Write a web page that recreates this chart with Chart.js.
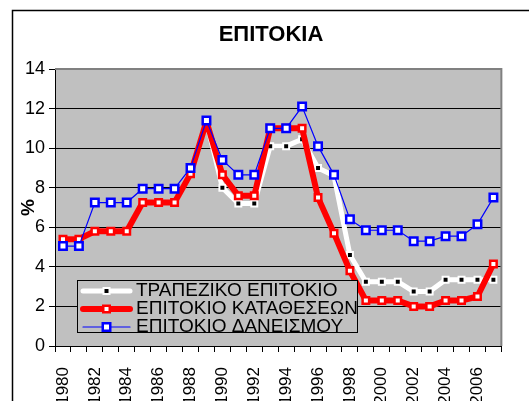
<!DOCTYPE html>
<html>
<head>
<meta charset="utf-8">
<script src="https://cdn.jsdelivr.net/npm/chart.js@4"></script>
<style>
	body { margin: 0; background: #fff; }
	#wrap { width: 529px; height: 401px; }
</style>
</head>
<body>
<div id="wrap"><canvas id="ratesChart" width="529" height="401"></canvas></div>
<script>
// Χρονιές
const years = ["1980", "1981", "1982", "1983", "1984", "1985", "1986", "1987", "1988", "1989",
	"1990", "1991", "1992", "1993", "1994", "1995", "1996", "1997", "1998", "1999",
	"2000", "2001", "2002", "2003", "2004", "2005", "2006", "2007"];

// Τραπεζικό επιτόκιο (κρυμμένο κάτω από το κόκκινο ως το 1989)
const bankRate = [5.4, 5.4, 5.8, 5.8, 5.8, 7.25, 7.25, 7.25, 8.7, 11.35,
	8.0, 7.2, 7.2, 10.1, 10.1, 10.45, 9.0, 8.6, 4.6, 3.25,
	3.25, 3.25, 2.75, 2.75, 3.35, 3.35, 3.35, 3.35];
// Επιτόκιο καταθέσεων
const depositRate = [5.4, 5.4, 5.8, 5.8, 5.8, 7.25, 7.25, 7.25, 8.7, 11.35,
	8.65, 7.6, 7.6, 11.0, 11.0, 11.0, 7.5, 5.7, 3.8, 2.3,
	2.3, 2.3, 2.0, 2.0, 2.3, 2.3, 2.5, 4.15];
// Επιτόκιο δανεισμού
const loanRate = [5.05, 5.05, 7.25, 7.25, 7.25, 7.95, 7.95, 7.95, 9.0, 11.4,
	9.4, 8.65, 8.65, 11.0, 11.0, 12.1, 10.1, 8.65, 6.4, 5.85,
	5.85, 5.85, 5.3, 5.3, 5.55, 5.55, 6.15, 7.5];

const seriesNames = ["ΤΡΑΠΕΖΙΚΟ ΕΠΙΤΟΚΙΟ", "ΕΠΙΤΟΚΙΟ ΚΑΤΑΘΕΣΕΩΝ", "ΕΠΙΤΟΚΙΟ ΔΑΝΕΙΣΜΟΥ"];
const chartTitle = "ΕΠΙΤΟΚΙΑ";

Chart.defaults.font.family = "'Liberation Sans', Arial, sans-serif";
Chart.defaults.color = "#000";

function drawSquare(ctx, x, y, side, fill, stroke, lw) {
	ctx.fillStyle = fill;
	ctx.fillRect(x - side / 2, y - side / 2, side, side);
	ctx.strokeStyle = stroke;
	ctx.lineWidth = lw;
	ctx.strokeRect(x - side / 2, y - side / 2, side, side);
}

// fond gris, cadre, titre et légende façon Excel
const excelFrame = {
	id: "excelFrame",
	beforeDraw(chart) {
		const ctx = chart.ctx;
		const a = chart.chartArea;
		ctx.save();
		ctx.fillStyle = "#fff";
		ctx.fillRect(0, 0, chart.width, chart.height);
		ctx.strokeStyle = "#000";
		ctx.lineWidth = 1.5;
		ctx.strokeRect(12.5, 10.5, chart.width + 10, chart.height + 10);
		ctx.fillStyle = "#c0c0c0";
		ctx.fillRect(a.left, a.top, a.right - a.left, a.bottom - a.top);
		ctx.fillStyle = "#000";
		ctx.font = "bold 22px 'Liberation Sans', Arial, sans-serif";
		ctx.textAlign = "center";
		ctx.textBaseline = "middle";
		ctx.fillText(chartTitle, 271, 35);
		ctx.restore();
	},
	beforeDatasetsDraw(chart) {
		const ctx = chart.ctx;
		const a = chart.chartArea;
		ctx.save();
		ctx.strokeStyle = "#808080";
		ctx.lineWidth = 2;
		ctx.beginPath();
		ctx.moveTo(a.left, a.top);
		ctx.lineTo(a.right, a.top);
		ctx.lineTo(a.right, a.bottom);
		ctx.stroke();
		ctx.restore();
	},
	afterDraw(chart) {
		const ctx = chart.ctx;
		const bx = 77.5, by = 280.5, bw = 280, bh = 52;
		ctx.save();
		ctx.fillStyle = "#c0c0c0";
		ctx.fillRect(bx, by, bw, bh);
		ctx.beginPath();
		ctx.rect(bx, by, bw, bh);
		ctx.clip();
		const rows = [291, 309, 327];
		const styles = [
			{ line: "#fff", lw: 5, fill: "#000", stroke: "#fff", side: 6, mlw: 2 },
			{ line: "#ff0000", lw: 6, fill: "#fff", stroke: "#ff0000", side: 6.5, mlw: 2.5 },
			{ line: "#0000ff", lw: 1.2, fill: "#fff", stroke: "#0000ff", side: 7.5, mlw: 2.5 },
		];
		rows.forEach((y, i) => {
			const s = styles[i];
			ctx.strokeStyle = s.line;
			ctx.lineWidth = s.lw;
			ctx.lineCap = "round";
			ctx.beginPath();
			ctx.moveTo(83, y);
			ctx.lineTo(130, y);
			ctx.stroke();
			drawSquare(ctx, 106.5, y, s.side, s.fill, s.stroke, s.mlw);
			ctx.fillStyle = "#000";
			ctx.font = "19px 'Liberation Sans', Arial, sans-serif";
			ctx.textBaseline = "middle";
			ctx.fillText(seriesNames[i], 136, y);
		});
		ctx.restore();
		ctx.save();
		ctx.strokeStyle = "#000";
		ctx.lineWidth = 1;
		ctx.strokeRect(bx, by, bw, bh);
		ctx.restore();
	},
};

const ctx = document.getElementById("ratesChart");
new Chart(ctx, {
	type: "line",
	data: {
		labels: years,
		datasets: [
			{
				label: seriesNames[0],
				data: bankRate,
				order: 3,
				borderColor: "#fff",
				borderWidth: 5,
				borderJoinStyle: "round",
				pointStyle: "rect",
				pointRadius: 4.2,
				pointBackgroundColor: "#000",
				pointBorderColor: "#fff",
				pointBorderWidth: 2,
				tension: 0,
			},
			{
				label: seriesNames[1],
				data: depositRate,
				order: 2,
				borderColor: "#ff0000",
				borderWidth: 6,
				borderJoinStyle: "round",
				pointStyle: "rect",
				pointRadius: 4.6,
				pointBackgroundColor: "#fff",
				pointBorderColor: "#ff0000",
				pointBorderWidth: 2.5,
				tension: 0,
			},
			{
				label: seriesNames[2],
				data: loanRate,
				order: 1,
				borderColor: "#0000ff",
				borderWidth: 1.2,
				pointStyle: "rect",
				pointRadius: 5.3,
				pointBackgroundColor: "#fff",
				pointBorderColor: "#0000ff",
				pointBorderWidth: 2.5,
				tension: 0,
			},
		],
	},
	options: {
		responsive: false,
		animation: false,
		devicePixelRatio: 1,
		layout: { padding: { left: 12, right: 0, top: 69, bottom: 0 } },
		plugins: {
			legend: { display: false },
			tooltip: { enabled: false },
			title: { display: false },
		},
		scales: {
			x: {
				offset: true,
				grid: { drawOnChartArea: false, offset: true, color: "#000", tickLength: 6 },
				border: { color: "#000", width: 1 },
				ticks: {
					autoSkip: false,
					minRotation: 90,
					maxRotation: 90,
					padding: 15,
					font: { size: 17 },
					callback: function (val, i) {
						return i % 2 == 0 ? years[i] : "";
					},
				},
				afterFit: (scale) => { scale.height = 55; },
			},
			y: {
				min: 0,
				max: 14,
				ticks: { stepSize: 2, padding: 4, font: { size: 18 } },
				grid: { color: "#000", tickLength: 6 },
				border: { color: "#000", width: 1 },
				title: {
					display: true,
					text: "%",
					font: { size: 19, weight: "bold" },
					padding: { top: 5, bottom: 0 },
				},
				afterFit: (scale) => { scale.width = 43; },
			},
			spacer: {
				position: "right",
				display: true,
				grid: { display: false },
				border: { display: false },
				ticks: { display: false },
				afterFit: (scale) => { scale.width = 11; },
			},
		},
	},
	plugins: [excelFrame],
});
</script>
</body>
</html>
